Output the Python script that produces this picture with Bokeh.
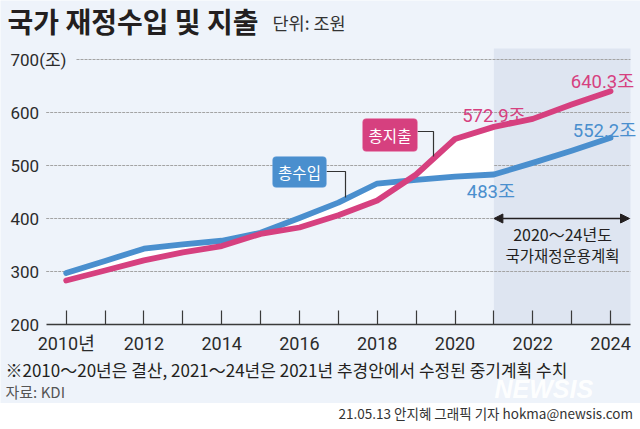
from bokeh.plotting import figure
from bokeh.models import Label, Arrow, NormalHead, BoxAnnotation, FixedTicker, Div
from bokeh.layouts import column
from bokeh.embed import file_html
from bokeh.resources import INLINE

# ---------------- data ----------------
years = list(range(2010, 2025))
revenue = [297, 320, 343, 351, 358, 373, 401, 430, 466, 473, 479, 483.0, 505, 528, 552.2]
expenditure = [283, 302, 321, 336, 348, 371, 383, 406, 434, 483, 550, 572.9, 588, 615, 640.3]
actual_end_year = 2021
plan_start_year = 2021
y_ticks = [200, 300, 400, 500, 600, 700]
y_tick_labels = ["200", "300", "400", "500", "600", "700(조)"]
x_tick_labels = {2010: "2010년", 2012: "2012", 2014: "2014", 2016: "2016",
                 2018: "2018", 2020: "2020", 2022: "2022", 2024: "2024"}

title_text = "국가 재정수입 및 지출"
unit_text = "단위: 조원"
note_text = "※2010～20년은 결산, 2021～24년은 2021년 추경안에서 수정된 중기계획 수치"
source_text = "자료: KDI"
credit_text = "21.05.13 안지혜 그래픽 기자 hokma@newsis.com"
plan_text1 = "2020～24년도"
plan_text2 = "국가재정운용계획"

# ---------------- style ----------------
BG = "#eef3fa"
SHADE = "#dee5f1"
BLUE = "#4a8fce"
PINK = "#d6407f"
INK = "#231f20"
GRID = "#a3a3a3"
NUM = "Roboto, Noto Sans CJK KR, sans-serif"
KR = "Noto Sans CJK KR"

W, H = 640, 403

# reference-pixel helpers (layout only)
X0_PX, STEP = 65.7, 38.88          # px of 2010 tick, px per year
AX_PX, PPU = 324.0, 0.53           # px of value 200, px per unit
def px2x(rx):
    return 2010 + (rx - X0_PX) / STEP
def px2y(ry):
    return 200 + (AX_PX - ry) / PPU

p = figure(width=W, height=H, x_range=(px2x(0), px2x(W)), y_range=(px2y(H), px2y(0)),
           output_backend="svg", toolbar_location=None, y_axis_location=None,
           min_border=0)
p.min_border_left = p.min_border_right = p.min_border_top = p.min_border_bottom = 0
p.background_fill_color = BG
p.border_fill_color = BG
p.outline_line_color = None
p.xgrid.visible = False
p.ygrid.visible = False

# forecast shading
p.add_layout(BoxAnnotation(left=plan_start_year, right=px2x(630), top=px2y(48), bottom=200,
                           fill_color=SHADE, fill_alpha=1, line_color=None, level="underlay"))

# gridlines
g_left = [px2x(45.7) if t != 700 else px2x(76) for t in y_ticks[1:]]
g_right = [px2x(630)] * len(g_left)
p.segment(x0=g_left, y0=y_ticks[1:], x1=g_right, y1=y_ticks[1:], line_color=GRID,
          line_width=1, line_dash="3 1")

# white band between lines (actual period)
n_act = years.index(actual_end_year) + 1
p.varea(x=years[:n_act], y1=revenue[:n_act], y2=expenditure[:n_act], fill_color="white")

# lines
p.line(years, revenue, line_color=BLUE, line_width=5.8, line_cap="round", line_join="round")
p.line(years, expenditure, line_color=PINK, line_width=5.8, line_cap="round", line_join="round")

# x axis (fixed inside the frame at 200)
ax = p.xaxis[0]
ax.fixed_location = 200
ax.bounds = (px2x(45.7), px2x(630))
ax.ticker = FixedTicker(ticks=years)
ax.major_label_overrides = {y: x_tick_labels.get(y, "") for y in years}
ax.major_tick_in = 14
ax.major_tick_out = 0
ax.minor_tick_line_color = None
ax.axis_line_color = "#3a3a3a"
ax.axis_line_width = 1.4
ax.major_tick_line_color = "#3a3a3a"
ax.major_tick_line_width = 1.2
ax.major_label_standoff = 8
ax.major_label_text_font = NUM
ax.major_label_text_font_size = "18px"
ax.major_label_text_color = "#2b2b2b"

# y tick labels
for v, t in zip(y_ticks, y_tick_labels):
    p.add_layout(Label(x=px2x(10), y=v, text=t, text_font=NUM, text_font_size="17px",
                       text_color="#2b2b2b", text_align="left", text_baseline="middle"))

# title & unit
p.add_layout(Label(x=px2x(7), y=px2y(20), text=title_text, text_font=KR, text_font_size="28px",
                   text_font_style="bold", text_color=INK, text_baseline="middle"))
p.add_layout(Label(x=px2x(272), y=px2y(21.5), text=unit_text, text_font=KR, text_font_size="17.5px",
                   text_color="#333333", text_baseline="middle"))

# value labels
i21 = years.index(2021)
VAL_FS = "18.5px"
p.add_layout(Label(x=years[-1], y=expenditure[-1], text=f"{expenditure[-1]}조", x_offset=-8, y_offset=9,
                   text_font=NUM, text_font_size=VAL_FS, text_color=PINK, text_align="center",
                   text_baseline="alphabetic"))
p.add_layout(Label(x=years[-1], y=revenue[-1], text=f"{revenue[-1]}조", x_offset=-6, y_offset=7,
                   text_font=NUM, text_font_size=VAL_FS, text_color=BLUE, text_align="center",
                   text_baseline="alphabetic"))
p.add_layout(Label(x=years[i21], y=expenditure[i21], text=f"{expenditure[i21]}조", x_offset=0, y_offset=11,
                   text_font=NUM, text_font_size=VAL_FS, text_color=PINK, text_align="center",
                   text_baseline="alphabetic"))
p.add_layout(Label(x=years[i21], y=revenue[i21], text=f"{int(revenue[i21])}조", x_offset=-3, y_offset=-6,
                   text_font=NUM, text_font_size=VAL_FS, text_color=BLUE, text_align="center",
                   text_baseline="top"))

# callout boxes
def callout(l, t, r, b, color, border, text, lead):
    p.add_layout(BoxAnnotation(left=px2x(l), right=px2x(r), top=px2y(t), bottom=px2y(b),
                               fill_color=color, fill_alpha=1, line_color=border, line_width=1,
                               border_radius=4))
    p.add_layout(Label(x=px2x((l + r) / 2), y=px2y((t + b) / 2), text=text, text_font=KR,
                       text_font_size="15.5px", text_color="white", text_align="center",
                       text_baseline="middle"))
    xs = [px2x(q[0]) for q in lead]
    ys = [px2y(q[1]) for q in lead]
    p.line(xs, ys, line_color="#333333", line_width=1.2)

callout(272, 156, 326, 187, BLUE, "#8dbbe8", "총수입", [(326, 171), (345, 171), (345, 197)])
callout(362, 118, 417, 151, PINK, "#ee9dc0", "총지출", [(417, 131), (433, 131), (433, 156)])

# plan period arrow + text
p.add_layout(Arrow(start=NormalHead(size=9, fill_color=INK, line_color=INK),
                   end=NormalHead(size=9, fill_color=INK, line_color=INK),
                   x_start=plan_start_year, y_start=400, x_end=px2x(629), y_end=400,
                   line_color=INK, line_width=1.5))
p.add_layout(Label(x=px2x(562), y=px2y(233), text=plan_text1, text_font=KR, text_font_size="16px",
                   text_color=INK, text_align="center", text_baseline="middle"))
p.add_layout(Label(x=px2x(562), y=px2y(254), text=plan_text2, text_font=KR, text_font_size="15.5px",
                   text_color=INK, text_align="center", text_baseline="middle"))

# footnotes
p.add_layout(Label(x=px2x(5), y=px2y(369), text=note_text, text_font=KR, text_font_size="17px",
                   text_color=INK, text_baseline="middle"))
p.add_layout(Label(x=px2x(5), y=px2y(391), text=source_text, text_font=KR, text_font_size="15px",
                   text_color="#555555", text_baseline="middle"))

# watermark
p.add_layout(Label(x=px2x(494), y=px2y(402), text="NEWSIS", text_font="Liberation Sans",
                   text_font_size="25px", text_font_style="bold italic", text_color="white",
                   text_alpha=0.95, text_baseline="bottom"))

credit = Div(text=credit_text, width=W, height=429 - H, margin=(0, 0, 0, 0),
             styles={"font-family": KR, "font-size": "13.5px", "color": "#333333",
                     "text-align": "right", "padding-top": "1px", "padding-right": "7px",
                     "box-sizing": "border-box", "background": "white"})

layout = column(p, credit, spacing=0)
open("out.html", "w").write(file_html(layout, INLINE))
